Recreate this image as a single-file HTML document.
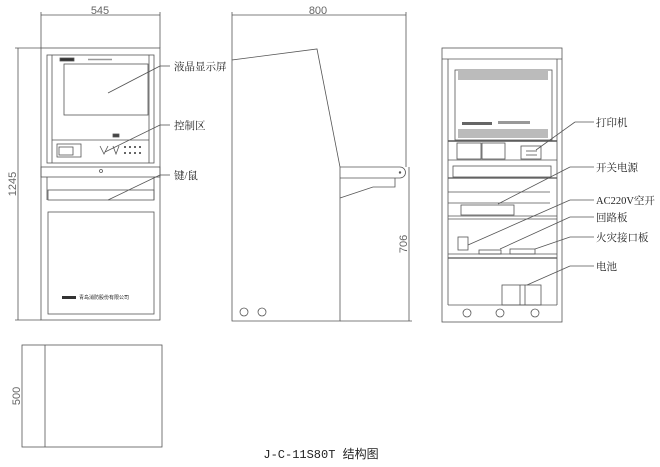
<!DOCTYPE html>
<html><head><meta charset="utf-8"><style>
body{margin:0;background:#fff}
svg text{font-family:"Liberation Serif","Noto Serif CJK SC",serif;fill:#222}
</style></head><body>
<svg width="660" height="462" viewBox="0 0 660 462" xmlns="http://www.w3.org/2000/svg" stroke="#555" fill="none" stroke-width="0.8">
<!-- FRONT -->
<line x1="41" y1="12" x2="41" y2="48"/><line x1="160" y1="12" x2="160" y2="48"/>
<line x1="41" y1="15" x2="160" y2="15"/>
<text x="100" y="14" font-size="11" text-anchor="middle" stroke="none" style="font-family:'Liberation Sans',sans-serif;fill:#666">545</text>
<line x1="15" y1="48" x2="41" y2="48"/><line x1="15" y1="320" x2="41" y2="320"/>
<line x1="18" y1="48" x2="18" y2="320"/>
<text transform="translate(16,184) rotate(-90)" font-size="11" text-anchor="middle" stroke="none" style="font-family:'Liberation Sans',sans-serif;fill:#666">1245</text>
<rect x="41" y="48" width="119" height="272"/>
<rect x="47" y="55" width="107" height="108"/>
<line x1="52" y1="55" x2="52" y2="163"/><line x1="149" y1="55" x2="149" y2="163"/>
<rect x="64" y="64" width="84" height="51"/>
<rect x="60" y="58" width="14" height="3" fill="#333"/>
<line x1="88" y1="59.5" x2="112" y2="59.5" stroke-width="1.5" stroke="#999"/>
<line x1="52" y1="140" x2="149" y2="140"/>
<rect x="57" y="144" width="24" height="13"/><rect x="59" y="147" width="14" height="8"/>
<rect x="113" y="134" width="6" height="3" fill="#444"/>
<path d="M100 146 L104 154 L108 146 M113 146 L116 154 L119 146"/>
<g fill="#666" stroke="none"><rect x="124" y="146" width="2" height="2"/><rect x="129" y="146" width="2" height="2"/><rect x="134" y="146" width="2" height="2"/><rect x="139" y="146" width="2" height="2"/><rect x="124" y="152" width="2" height="2"/><rect x="129" y="152" width="2" height="2"/><rect x="134" y="152" width="2" height="2"/><rect x="139" y="152" width="2" height="2"/></g>
<rect x="41" y="167" width="119" height="10"/>
<circle cx="101" cy="171" r="1.5"/>
<line x1="47" y1="177" x2="47" y2="200"/><line x1="154" y1="177" x2="154" y2="200"/>
<rect x="48" y="190" width="106" height="10"/>
<rect x="48" y="212" width="106" height="102"/>
<rect x="62" y="296" width="14" height="3" fill="#333" stroke="none"/>
<text x="79" y="299" font-size="5" stroke="none" style="font-family:'Noto Sans CJK SC',sans-serif">青岛消防股份有限公司</text>
<line x1="108" y1="93" x2="160" y2="66"/><line x1="160" y1="66" x2="170" y2="66"/>
<line x1="105" y1="152" x2="160" y2="125"/><line x1="160" y1="125" x2="170" y2="125"/>
<line x1="108" y1="200" x2="160" y2="175"/><line x1="160" y1="175" x2="170" y2="175"/>
<g stroke="none" font-size="10.5"><text x="174" y="70">液晶显示屏</text><text x="174" y="129">控制区</text><text x="174" y="179">键/鼠</text></g>
<!-- SIDE -->
<line x1="232" y1="12" x2="232" y2="60"/><line x1="406" y1="12" x2="406" y2="167"/>
<line x1="232" y1="15" x2="406" y2="15"/>
<text x="318" y="14" font-size="11" text-anchor="middle" stroke="none" style="font-family:'Liberation Sans',sans-serif;fill:#666">800</text>
<path d="M232 321 L232 60 L317 49 L340 167 L340 321 Z"/>
<path d="M340 167 L400 167 A5.5 5.5 0 0 1 400 178 L340 178"/>
<circle cx="400" cy="172.5" r="0.8" fill="#555"/>
<path d="M340 198 L373 187 L395 187 L395 178"/>
<line x1="409" y1="167" x2="409" y2="321"/><line x1="340" y1="321" x2="412" y2="321"/>
<text transform="translate(407,244) rotate(-90)" font-size="11" text-anchor="middle" stroke="none" style="font-family:'Liberation Sans',sans-serif;fill:#666">706</text>
<circle cx="244" cy="312" r="4"/><circle cx="262" cy="312" r="4"/>
<!-- REAR -->
<rect x="442" y="48" width="120" height="274"/>
<line x1="442" y1="59" x2="562" y2="59"/>
<line x1="448" y1="59" x2="448" y2="305"/><line x1="557" y1="59" x2="557" y2="305"/>
<line x1="448" y1="305" x2="557" y2="305"/>
<rect x="455" y="70" width="97" height="70"/>
<rect x="458" y="71" width="90" height="9" fill="#bbb" stroke="none"/>
<rect x="458" y="129" width="90" height="9" fill="#bbb" stroke="none"/>
<rect x="462" y="122" width="30" height="3" fill="#666" stroke="none"/>
<rect x="498" y="121" width="32" height="3" fill="#999" stroke="none"/>
<line x1="448" y1="141" x2="557" y2="141" stroke-width="1.4"/>
<rect x="457" y="143" width="24" height="16"/><rect x="482" y="143" width="23" height="16"/>
<rect x="521" y="146" width="20" height="13"/><line x1="526" y1="151" x2="537" y2="151"/><line x1="526" y1="155" x2="537" y2="155"/>
<line x1="448" y1="160" x2="557" y2="160"/>
<rect x="453" y="166" width="98" height="11"/>
<line x1="448" y1="178" x2="557" y2="178" stroke-width="1.2"/>
<line x1="448" y1="192" x2="550" y2="192"/><line x1="448" y1="203" x2="550" y2="203"/>
<rect x="461" y="205" width="53" height="10"/>
<line x1="448" y1="216" x2="557" y2="216"/><line x1="448" y1="219" x2="557" y2="219"/>
<rect x="458" y="237" width="10" height="13"/>
<rect x="479" y="250" width="22" height="4"/><rect x="510" y="249" width="25" height="5"/>
<line x1="448" y1="254" x2="557" y2="254"/><line x1="448" y1="258" x2="557" y2="258" stroke-width="1.2"/>
<rect x="502" y="285" width="39" height="20"/><line x1="520" y1="285" x2="520" y2="305"/><line x1="525" y1="285" x2="525" y2="305"/>
<circle cx="467" cy="313" r="4"/><circle cx="500" cy="313" r="4"/><circle cx="535" cy="313" r="4"/>
<line x1="536" y1="150" x2="575" y2="122"/><line x1="575" y1="122" x2="594" y2="122"/>
<line x1="498" y1="204" x2="570" y2="167"/><line x1="570" y1="167" x2="594" y2="167"/>
<line x1="468" y1="245" x2="570" y2="200"/><line x1="570" y1="200" x2="594" y2="200"/>
<line x1="500" y1="249" x2="570" y2="217"/><line x1="570" y1="217" x2="594" y2="217"/>
<line x1="535" y1="249" x2="570" y2="237"/><line x1="570" y1="237" x2="594" y2="237"/>
<line x1="527" y1="285" x2="570" y2="266"/><line x1="570" y1="266" x2="594" y2="266"/>
<g stroke="none" font-size="10.5"><text x="596" y="126">打印机</text><text x="596" y="171">开关电源</text><text x="596" y="204">AC220V空开</text><text x="596" y="221">回路板</text><text x="596" y="241">火灾接口板</text><text x="596" y="270">电池</text></g>
<!-- TOP VIEW -->
<rect x="22" y="345" width="140" height="102"/>
<line x1="45" y1="345" x2="45" y2="447"/>
<text transform="translate(20,396) rotate(-90)" font-size="11" text-anchor="middle" stroke="none" style="font-family:'Liberation Sans',sans-serif;fill:#666">500</text>
<text x="321" y="458" font-size="12" text-anchor="middle" stroke="none" style="font-family:'Liberation Mono','Noto Sans CJK SC',monospace;fill:#222">J-C-11S80T 结构图</text>
</svg>
</body></html>
